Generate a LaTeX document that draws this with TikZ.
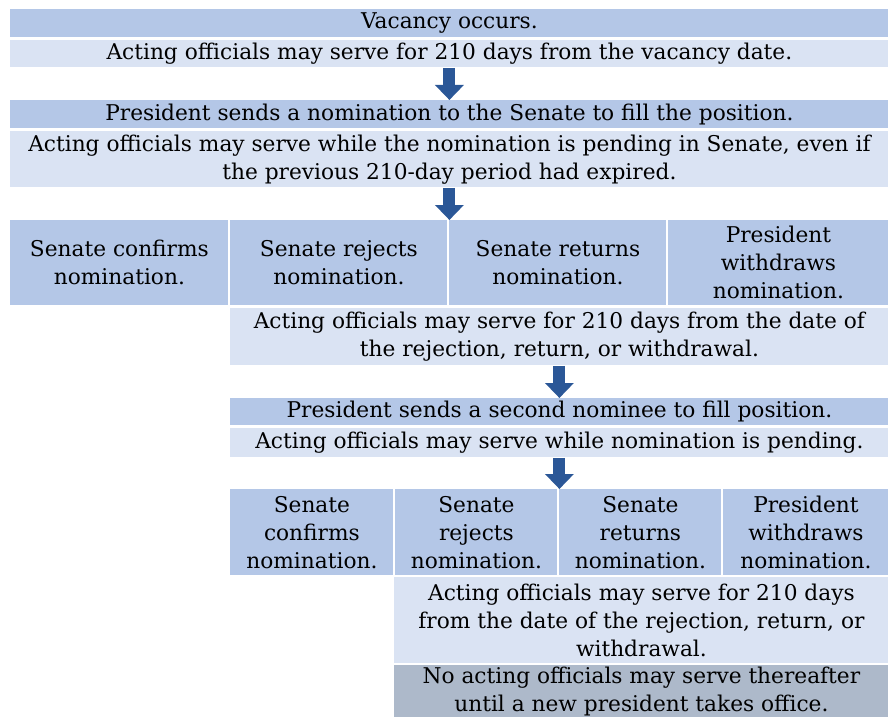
\documentclass[tikz,border=0pt]{standalone}
\usepackage{fontspec}
\setmainfont{DejaVu Serif}
\usepackage{tikz}
\usetikzlibrary{arrows.meta}
\definecolor{boxdark}{HTML}{B4C7E7}
\definecolor{boxlight}{HTML}{DAE3F3}
\definecolor{boxgray}{HTML}{ADB9CA}
\definecolor{arrowblue}{HTML}{2B5797}

\begin{document}
\begin{tikzpicture}[x=0.5pt,y=-0.5pt,
    cell/.style={anchor=north west, inner sep=0pt, align=center, font=\fontsize{10.85}{14}\selectfont},
    dark/.style={cell, fill=boxdark},
    light/.style={cell, fill=boxlight},
    gray/.style={cell, fill=boxgray},
    flow/.style={draw=arrowblue, line width=6pt, -{Triangle[width=14pt,length=7.5pt]}}]
    \useasboundingbox (0,0) rectangle (892,717);
    % First nomination
    \node[dark, minimum width=439pt, minimum height=14pt] (vac) at (10,9) {Vacancy occurs.};
    \node[light, minimum width=439pt, minimum height=13.5pt] (act1) at (10,40) {Acting officials may serve for 210 days from the vacancy date.};
    \node[dark, minimum width=439pt, minimum height=14pt] (nom1) at (10,100) {President sends a nomination to the Senate to fill the position.};
    \node[light, minimum width=439pt, minimum height=28pt] (act2) at (10,131) {Acting officials may serve while the nomination is pending in Senate, even if\\the previous 210-day period had expired.};

    % Senate outcomes, first round
    \node[dark, minimum width=109pt, minimum height=42.5pt] (conf1) at (10,220) {Senate confirms\\nomination.};
    \node[dark, minimum width=108.5pt, minimum height=42.5pt] (rej1) at (230,220) {Senate rejects\\nomination.};
    \node[dark, minimum width=108.5pt, minimum height=42.5pt] (ret1) at (449,220) {Senate returns\\nomination.};
    \node[dark, minimum width=110pt, minimum height=42.5pt] (wd1) at (668,220) {President\\withdraws\\nomination.};
    \node[light, minimum width=329pt, minimum height=28.5pt] (act3) at (230,308) {Acting officials may serve for 210 days from the date of\\the rejection, return, or withdrawal.};

    % Second nomination
    \node[dark, minimum width=329pt, minimum height=13.5pt] (nom2) at (230,398) {President sends a second nominee to fill position.};
    \node[light, minimum width=329pt, minimum height=14.5pt] (act4) at (230,428) {Acting officials may serve while nomination is pending.};

    % Senate outcomes, second round
    \node[dark, minimum width=81.5pt, minimum height=43pt] (conf2) at (230,489) {Senate\\confirms\\nomination.};
    \node[dark, minimum width=81pt, minimum height=43pt] (rej2) at (395,489) {Senate\\rejects\\nomination.};
    \node[dark, minimum width=81pt, minimum height=43pt] (ret2) at (559,489) {Senate\\returns\\nomination.};
    \node[dark, minimum width=82.5pt, minimum height=43pt] (wd2) at (723,489) {President\\withdraws\\nomination.};
    \node[light, minimum width=247pt, minimum height=43pt] (act5) at (394,577) {Acting officials may serve for 210 days\\from the date of the rejection, return, or\\withdrawal.};
    \node[gray, minimum width=247pt, minimum height=26pt] (none) at (394,665) {No acting officials may serve thereafter\\until a new president takes office.};

    % Arrows
    \draw[flow] (act1.south) -- (nom1.north);
    \draw[flow] (act2.south) -- (act2.south |- conf1.north);
    \draw[flow] (act3.south) -- (nom2.north);
    \draw[flow] (act4.south) -- (act4.south |- conf2.north);
\end{tikzpicture}
\end{document}
